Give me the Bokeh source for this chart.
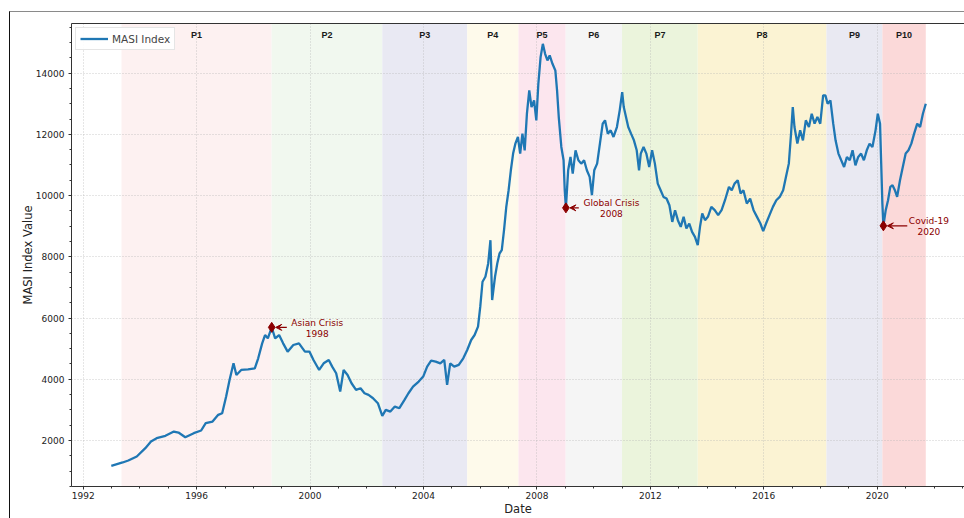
import numpy as np
import pandas as pd
from bokeh.plotting import figure
from bokeh.models import (ColumnDataSource, Range1d, FixedTicker, DatetimeTickFormatter,
                          LinearAxis, Arrow, VeeHead, Label, Legend, InlineStyleSheet)
from bokeh.embed import file_html
from bokeh.resources import INLINE

# ---- MASI index (closing values) ----
dates = [
    "1992-12-28", "1993-05-23", "1993-08-04", "1993-11-21", "1994-03-11", "1994-05-23",
    "1994-08-04", "1994-11-25", "1995-03-14", "1995-05-12", "1995-08-08", "1995-11-25",
    "1996-02-28", "1996-04-27", "1996-07-24", "1996-10-05", "1996-11-25", "1997-01-15",
    "1997-02-28", "1997-04-20", "1997-05-27", "1997-07-28", "1997-10-24", "1998-01-19",
    "1998-03-04", "1998-04-24", "1998-05-31", "1998-07-06", "1998-08-25", "1998-10-08",
    "1998-11-28", "1999-01-19", "1999-03-18", "1999-05-30", "1999-08-11", "1999-10-27",
    "1999-12-25", "2000-02-14", "2000-04-27", "2000-06-24", "2000-08-29", "2000-10-12",
    "2000-12-02", "2001-01-23", "2001-03-08", "2001-04-28", "2001-06-18", "2001-08-15",
    "2001-10-12", "2001-12-02", "2002-01-23", "2002-03-22", "2002-05-23", "2002-07-19",
    "2002-09-02", "2002-10-31", "2002-12-28", "2003-02-24", "2003-05-01", "2003-06-21",
    "2003-08-19", "2003-10-31", "2003-12-28", "2004-02-17", "2004-04-08", "2004-06-06",
    "2004-08-04", "2004-09-24", "2004-10-31", "2004-12-10", "2005-01-30", "2005-03-30",
    "2005-05-27", "2005-07-17", "2005-09-06", "2005-10-20", "2005-12-03", "2006-01-01",
    "2006-01-30", "2006-03-08", "2006-04-13", "2006-05-12", "2006-06-03", "2006-07-10",
    "2006-08-08", "2006-09-06", "2006-10-05", "2006-11-03", "2006-12-02", "2007-01-01",
    "2007-01-30", "2007-02-28", "2007-03-29", "2007-05-01", "2007-05-30", "2007-06-28",
    "2007-07-27", "2007-08-25", "2007-09-24", "2007-10-23", "2007-11-25", "2007-12-24",
    "2008-01-19", "2008-02-17", "2008-03-17", "2008-04-15", "2008-05-15", "2008-06-13",
    "2008-07-19", "2008-08-25", "2008-09-16", "2008-10-08", "2008-11-10", "2008-12-09",
    "2008-12-24", "2009-01-08", "2009-02-06", "2009-03-08", "2009-04-06", "2009-05-12",
    "2009-06-18", "2009-07-24", "2009-08-30", "2009-10-05", "2009-11-10", "2009-12-09",
    "2010-01-08", "2010-02-14", "2010-03-22", "2010-04-27", "2010-05-27", "2010-07-02",
    "2010-08-08", "2010-09-13", "2010-10-27", "2010-12-02", "2011-01-03", "2011-01-23",
    "2011-02-21", "2011-03-22", "2011-04-27", "2011-06-03", "2011-07-09", "2011-08-08",
    "2011-08-30", "2011-10-05", "2011-11-10", "2011-12-17", "2012-01-23", "2012-02-28",
    "2012-04-05", "2012-05-12", "2012-06-18", "2012-07-27", "2012-09-02", "2012-10-09",
    "2012-11-14", "2012-12-20", "2013-01-26", "2013-03-04", "2013-04-09", "2013-05-16",
    "2013-06-21", "2013-07-28", "2013-09-02", "2013-10-01", "2013-10-30", "2013-12-05",
    "2014-01-11", "2014-02-24", "2014-04-09", "2014-05-23", "2014-07-06", "2014-08-19",
    "2014-10-09", "2014-11-14", "2014-12-20", "2015-01-30", "2015-03-08", "2015-04-13",
    "2015-05-27", "2015-07-09", "2015-08-22", "2015-10-05", "2015-11-18", "2015-12-24",
    "2016-01-30", "2016-03-14", "2016-04-27", "2016-06-10", "2016-07-24", "2016-09-06",
    "2016-10-12", "2016-11-18", "2016-12-17", "2017-01-08", "2017-01-30", "2017-03-08",
    "2017-04-13", "2017-05-19", "2017-06-25", "2017-08-04", "2017-09-09", "2017-10-16",
    "2017-11-21", "2017-12-28", "2018-02-03", "2018-03-04", "2018-04-02", "2018-05-08",
    "2018-06-13", "2018-07-13", "2018-08-19", "2018-09-24", "2018-10-31", "2018-12-06",
    "2019-01-12", "2019-02-17", "2019-03-26", "2019-05-01", "2019-06-07", "2019-07-13",
    "2019-08-19", "2019-09-24", "2019-10-31", "2019-12-10", "2020-01-08", "2020-02-06",
    "2020-02-21", "2020-03-07", "2020-03-20", "2020-04-19", "2020-05-19", "2020-06-17",
    "2020-07-16", "2020-08-15", "2020-09-13", "2020-10-20", "2020-11-25", "2021-01-01",
    "2021-02-06", "2021-03-15", "2021-04-20", "2021-05-30", "2021-07-06", "2021-08-11",
    "2021-09-17",
]
masi = [
    1173, 1282, 1347, 1478, 1750, 1967,
    2076, 2152, 2293, 2260, 2108, 2239,
    2326, 2565, 2619, 2837, 2891, 3434,
    3978, 4521, 4141, 4304, 4326, 4358,
    4684, 5173, 5445, 5336, 5695, 5336,
    5445, 5173, 4901, 5119, 5173, 4901,
    4901, 4630, 4304, 4521, 4630, 4413,
    4195, 3597, 4304, 4141, 3869, 3652,
    3706, 3543, 3489, 3380, 3217, 2804,
    3000, 2945, 3108, 3054, 3326, 3543,
    3760, 3924, 4087, 4413, 4608, 4576,
    4521, 4630, 3815, 4521, 4413, 4467,
    4684, 4956, 5282, 5445, 5717, 6369,
    7185, 7348, 7782, 8543, 6587, 7348,
    7782, 8108, 8217, 8869, 9630, 10174,
    10826, 11370, 11696, 11913, 11370, 12022,
    11478, 12674, 13435, 12891, 13109, 12457,
    13652, 14522, 14956, 14630, 14413, 14576,
    14304, 14087, 13435, 12565, 11587, 11152,
    10174, 9598, 10826, 11261, 10717, 11478,
    11152, 11043, 11152, 10826, 10609, 10011,
    10826, 11043, 11696, 12348, 12457, 12022,
    12130, 11913, 12239, 12783, 13380, 12891,
    12565, 12239, 12022, 11804, 11478, 10826,
    11370, 11587, 11370, 10935, 11478, 11043,
    10391, 10174, 9956, 9902, 9685, 9141,
    9522, 9196, 8978, 9304, 8924, 9087,
    8815, 8652, 8380, 8978, 9413, 9196,
    9304, 9630, 9522, 9359, 9522, 9848,
    10283, 10174, 10391, 10500, 10065, 10174,
    9739, 9902, 9522, 9304, 9087, 8840,
    9087, 9359, 9630, 9848, 9956, 10174,
    10609, 11043, 12022, 12891, 12239, 11696,
    12130, 11804, 12457, 12239, 12674, 12348,
    12565, 12348, 13272, 13272, 13000, 13109,
    12348, 11804, 11370, 11152, 10935, 11261,
    11152, 11478, 10989, 11261, 11370, 11152,
    11478, 11696, 11587, 12130, 12674, 12348,
    11043, 9739, 9011, 9522, 9848, 10283,
    10337, 10174, 9956, 10500, 10935, 11370,
    11478, 11696, 12022, 12348, 12239, 12674,
    13000,
]

# ---- market periods ----
period_names = ["P1", "P2", "P3", "P4", "P5", "P6", "P7", "P8", "P9", "P10"]
period_starts = ["1993-05-08", "1998-08-25", "2002-07-19", "2005-07-17", "2007-05-08",
                 "2009-01-05", "2011-01-01", "2013-09-02", "2018-03-18", "2020-03-07"]
period_ends = ["1998-08-25", "2002-07-19", "2005-07-17", "2007-05-08", "2009-01-05",
               "2011-01-01", "2013-09-02", "2018-03-18", "2020-03-07", "2021-09-17"]
period_colors = ["#fdf1f1", "#f1f8ef", "#e9e9f3", "#fefaeb", "#fce6ee",
                 "#f5f5f5", "#ebf4dc", "#fbf3d3", "#e9e9f2", "#fbd9d9"]

# ---- crisis events ----
event_labels = ["Asian Crisis\n1998", "Global Crisis\n2008", "Covid-19\n2020"]
event_dates = ["1998-08-25", "2009-01-08", "2020-03-20"]

# ---- tick years ----
major_years = [1992, 1996, 2000, 2004, 2008, 2012, 2016, 2020]
minor_years = list(range(1991, 2025))

FONT = "DejaVu Sans"
DARKRED = "#8b0000"
LINE_BLUE = "#1f77b4"
AXIS_GREY = "#333333"


def decimal_year(y):
    yr = int(np.floor(y))
    a = pd.Timestamp(f"{yr}-01-01")
    b = pd.Timestamp(f"{yr + 1}-01-01")
    return a + (b - a) * (y - yr)


def ms(ts):
    return pd.Timestamp(ts).value / 1e6


W, H = 964, 518
BL, BT, BB = 71, 23, 32
frame_w = W - BL
frame_h = H - BT - BB

x0, x1 = decimal_year(1991.587), decimal_year(2023.076)
y0, y1 = 497, 15620
ms_per_px = (ms(x1) - ms(x0)) / frame_w
val_per_px = (y1 - y0) / frame_h

p = figure(width=W, height=H, x_axis_type="datetime",
           x_range=Range1d(x0.to_pydatetime(), x1.to_pydatetime()),
           y_range=Range1d(y0, y1),
           output_backend="svg", toolbar_location=None,
           min_border_left=BL, min_border_right=0, min_border_top=BT, min_border_bottom=BB,
           background_fill_color="white", border_fill_color="white")
p.outline_line_color = None

# shaded periods with their labels
starts = pd.to_datetime(period_starts)
ends = pd.to_datetime(period_ends)
ps = ColumnDataSource(dict(left=starts, right=ends, color=period_colors,
                           name=period_names, mid=starts + (ends - starts) / 2))
p.quad(left="left", right="right", bottom=y0, top=y1, fill_color="color",
       line_color=None, source=ps, level="underlay")
p.text(x="mid", y=y1 - 11 * val_per_px, text="name", source=ps,
       text_align="center", text_baseline="middle", text_font_size="9px",
       text_font_style="bold", text_color="#1a1a1a")

# index line
src = ColumnDataSource(dict(date=pd.to_datetime(dates), value=masi))
line = p.line("date", "value", source=src, line_color=LINE_BLUE, line_width=2.3)

# crisis markers with annotations
lookup = dict(zip(dates, masi))
ev_vals = [lookup[d] for d in event_dates]
p.scatter(x=pd.to_datetime(event_dates), y=ev_vals, marker="diamond", size=10,
          fill_color=DARKRED, line_color=DARKRED)
for lab, d, v in zip(event_labels, event_dates, ev_vals):
    xm = ms(d)
    first = lab.split("\n")[0]
    half_w = 4.4 * len(first) / 2
    p.add_layout(Label(x=xm, y=v, x_offset=45.5, y_offset=-1, text=lab,
                       text_align="center", text_baseline="middle",
                       text_font_size="9px", text_color=DARKRED, text_line_height=1.1,
                       text_font=FONT))
    p.add_layout(Arrow(x_start=xm + (45.5 - half_w - 4) * ms_per_px, y_start=v,
                       x_end=xm + 4 * ms_per_px, y_end=v,
                       line_color=DARKRED, line_width=1.2,
                       end=VeeHead(size=6, line_color=DARKRED, fill_color=DARKRED)))

# axes
xax, yax = p.xaxis[0], p.yaxis[0]
for ax in (xax, yax):
    ax.axis_line_color = AXIS_GREY
    ax.major_tick_line_color = AXIS_GREY
    ax.minor_tick_line_color = AXIS_GREY
    ax.major_tick_in = 0
    ax.major_tick_out = 3
    ax.minor_tick_in = 0
    ax.minor_tick_out = 2
    ax.major_label_text_font = FONT
    ax.major_label_text_font_size = "9px"
    ax.major_label_text_color = "#222222"
    ax.axis_label_text_font = FONT
    ax.axis_label_text_font_size = "11.5px"
    ax.axis_label_text_font_style = "normal"
    ax.axis_label_text_color = "#222222"

xticker = FixedTicker(ticks=[ms(f"{y}-01-01") for y in major_years],
                      minor_ticks=[ms(f"{y}-01-01") for y in minor_years])
yticker = FixedTicker(ticks=list(range(2000, 16000, 2000)),
                      minor_ticks=list(range(500, 16000, 500)))
xax.ticker = xticker
xax.formatter = DatetimeTickFormatter(years="%Y", months="%Y", days="%Y",
                                      hours="%Y", minutes="%Y", seconds="%Y")
xax.axis_label = "Date"
xax.major_label_standoff = 2
xax.axis_label_standoff = 0

yax.ticker = yticker
yax.axis_label = "MASI Index Value"
yax.major_label_standoff = 4
yax.axis_label_standoff = -2

for g, t in ((p.xgrid[0], xticker), (p.ygrid[0], yticker)):
    g.ticker = t
    g.grid_line_color = "#b0b0b0"
    g.grid_line_dash = "1 2"
    g.grid_line_width = 0.8
    g.grid_line_alpha = 0.8

# top spine
top = LinearAxis(ticker=FixedTicker(ticks=[]), axis_line_color=AXIS_GREY,
                 major_tick_line_color=None, minor_tick_line_color=None)
p.add_layout(top, "above")

legend = Legend(items=[("MASI Index", [line])], location="top_left",
                label_text_font=FONT, label_text_font_size="10.5px",
                glyph_width=28, glyph_height=13, label_height=13, label_standoff=4,
                padding=4, margin=4, spacing=0,
                border_line_color="#cccccc", background_fill_alpha=0.9)
p.add_layout(legend)

# thin page frame on the left and top edges
p.stylesheets = [InlineStyleSheet(css="""
:host { position: relative; }
:host::after {
  content: ""; position: absolute; left: 9px; top: 11px; right: 0; bottom: 0;
  border-left: 1.5px solid #111111; border-top: 1.5px solid #8a8a8a;
  pointer-events: none; z-index: 10;
}
""")]

open("out.html", "w").write(file_html(p, INLINE))
